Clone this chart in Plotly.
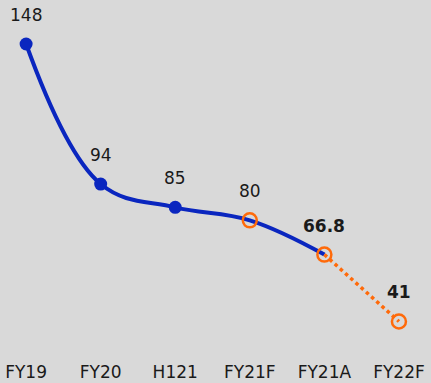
import plotly.graph_objects as go

categories = ["FY19", "FY20", "H121", "FY21F", "FY21A", "FY22F"]
values = [148, 94, 85, 80, 66.8, 41]
labels = ["148", "94", "85", "80", "<b>66.8</b>", "<b>41</b>"]

BLUE = "#0a26bf"
ORANGE = "#ff6a0a"
BG = "#d9d9d9"
FONT = "DejaVu Sans"

fig = go.Figure()
# solid blue spline through actuals/forecast
fig.add_trace(go.Scatter(x=categories[:5], y=values[:5], mode="lines",
                         line=dict(color=BLUE, width=4, shape="spline", smoothing=1.1),
                         hoverinfo="skip"))
# dotted orange segment
fig.add_trace(go.Scatter(x=categories[4:], y=values[4:], mode="lines",
                         line=dict(color=ORANGE, width=3.5, dash="dot"),
                         hoverinfo="skip"))
# blue filled markers
fig.add_trace(go.Scatter(x=categories[:3], y=values[:3], mode="markers",
                         marker=dict(color=BLUE, size=13)))
# orange open markers
fig.add_trace(go.Scatter(x=categories[3:], y=values[3:], mode="markers",
                         marker=dict(symbol="circle-open", color=ORANGE, size=14,
                                     line=dict(width=2.5, color=ORANGE))))

for c, v, t in zip(categories, values, labels):
    fig.add_annotation(x=c, y=v, text=t, showarrow=False, yshift=29,
                       font=dict(family=FONT, size=17, color="#1a1a1a"))

fig.update_layout(
    width=431, height=383,
    margin=dict(l=0, r=0, t=0, b=28),
    paper_bgcolor=BG, plot_bgcolor=BG,
    showlegend=False,
    font=dict(family=FONT, size=17, color="#1a1a1a"),
    xaxis=dict(type="category", range=[-0.35, 5.43], showgrid=False, zeroline=False,
               showline=False, ticks="", tickfont=dict(size=17), ticklabelstandoff=5),
    yaxis=dict(range=[28.07, 164.97], visible=False),
)

fig.write_html("out.html")
